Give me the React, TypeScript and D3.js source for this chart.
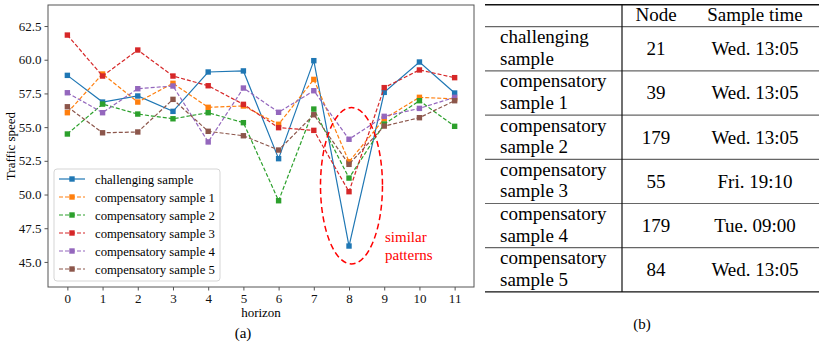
import React, { useEffect, useRef } from 'react';
import * as d3 from 'd3';

const horizons = [0, 1, 2, 3, 4, 5, 6, 7, 8, 9, 10, 11];
const seriesNames = [
  'challenging sample',
  'compensatory sample 1',
  'compensatory sample 2',
  'compensatory sample 3',
  'compensatory sample 4',
  'compensatory sample 5',
];
const challenging = [58.84, 56.86, 57.31, 56.17, 59.09, 59.17, 52.66, 59.93, 46.18, 57.58, 59.83, 57.53];
const comp1 = [56.07, 58.94, 56.86, 58.25, 56.47, 56.57, 55.21, 58.54, 52.43, 55.62, 57.21, 57.1];
const comp2 = [54.49, 56.71, 55.97, 55.62, 56.07, 55.33, 49.54, 56.34, 51.22, 55.23, 56.96, 55.06];
const comp3 = [61.83, 58.79, 60.72, 58.79, 58.07, 56.69, 54.96, 54.76, 50.21, 57.93, 59.24, 58.67];
const comp4 = [57.55, 56.07, 57.85, 58.05, 53.9, 57.9, 56.1, 57.7, 54.1, 55.8, 56.39, 57.21];
const comp5 = [56.51, 54.58, 54.64, 57.06, 54.69, 54.36, 53.3, 55.92, 52.24, 55.08, 55.7, 56.96];
const yTicks = [45.0, 47.5, 50.0, 52.5, 55.0, 57.5, 60.0, 62.5];

const tableHeader = ['', 'Node', 'Sample time'];
const rowLabels = [
  ['challenging', 'sample'],
  ['compensatory', 'sample 1'],
  ['compensatory', 'sample 2'],
  ['compensatory', 'sample 3'],
  ['compensatory', 'sample 4'],
  ['compensatory', 'sample 5'],
];
const nodes = ['21', '39', '179', '55', '179', '84'];
const sampleTimes = ['Wed. 13:05', 'Wed. 13:05', 'Wed. 13:05', 'Fri. 19:10', 'Tue. 09:00', 'Wed. 13:05'];

const colors = ['#1f77b4', '#ff7f0e', '#2ca02c', '#d62728', '#9467bd', '#8c564b'];
const FONT = "'Liberation Serif', 'Times New Roman', 'DejaVu Serif', serif";

export default function App() {
  const ref = useRef(null);

  useEffect(() => {
    document.body.style.margin = '0';
    const svg = d3.select(ref.current);
    svg.selectAll('*').remove();
    svg.attr('width', 830).attr('height', 346).style('background', '#fff')
      .attr('font-family', FONT);

    // plot area
    const L = 48, R = 474, T = 5, B = 287;
    const x = d3.scaleLinear().domain([-0.55, 11.55]).range([L, R]);
    const y = d3.scaleLinear().domain([43.14, 64.06]).range([B, T]);
    const all = [challenging, comp1, comp2, comp3, comp4, comp5];

    const g = svg.append('g');

    const line = d3.line<number>().x((d, i) => x(horizons[i])).y((d) => y(d));

    all.forEach((vals, k) => {
      g.append('path')
        .attr('d', line(vals))
        .attr('fill', 'none')
        .attr('stroke', colors[k])
        .attr('stroke-width', 1.2)
        .attr('stroke-dasharray', k === 0 ? null : '4,2');
      g.selectAll('.m' + k)
        .data(vals)
        .join('rect')
        .attr('x', (d, i) => x(horizons[i]) - 2.7)
        .attr('y', (d) => y(d) - 2.7)
        .attr('width', 5.4)
        .attr('height', 5.4)
        .attr('fill', colors[k]);
    });

    // similar patterns ellipse
    g.append('ellipse')
      .attr('cx', x(8.07))
      .attr('cy', y(50.65))
      .attr('rx', x(8.95) - x(8.07))
      .attr('ry', y(50.65) - y(56.45))
      .attr('fill', 'none')
      .attr('stroke', '#ff0000')
      .attr('stroke-width', 1.5)
      .attr('stroke-dasharray', '6,3.5');

    g.append('text').attr('x', 385).attr('y', 242).text('similar')
      .attr('fill', '#ff0000').attr('font-family', FONT).attr('font-size', 15);
    g.append('text').attr('x', 385).attr('y', 260).text('patterns')
      .attr('fill', '#ff0000').attr('font-family', FONT).attr('font-size', 15);

    // frame
    svg.append('rect').attr('x', L).attr('y', T).attr('width', R - L).attr('height', B - T)
      .attr('fill', 'none').attr('stroke', '#555').attr('stroke-width', 1);

    // axes
    const xAxis = svg.append('g').attr('transform', `translate(0,${B})`)
      .call(d3.axisBottom(x).tickValues(horizons).tickSize(3.5).tickSizeOuter(0).tickPadding(3));
    const yAxis = svg.append('g').attr('transform', `translate(${L},0)`)
      .call(d3.axisLeft(y).tickValues(yTicks).tickFormat(d3.format('.1f')).tickSize(3.5).tickSizeOuter(0).tickPadding(3));
    [xAxis, yAxis].forEach((a) => {
      a.attr('font-family', FONT).attr('font-size', 13);
      a.select('.domain').remove();
      a.selectAll('line').attr('stroke', '#555');
      a.selectAll('text').attr('fill', '#111');
    });

    svg.append('text').attr('x', (L + R) / 2).attr('y', 317).attr('text-anchor', 'middle')
      .text('horizon').attr('font-size', 13);
    svg.append('text').attr('transform', `translate(15,${(T + B) / 2}) rotate(-90)`).attr('text-anchor', 'middle')
      .text('Traffic speed').attr('font-size', 13);
    svg.append('text').attr('x', 243).attr('y', 338).attr('text-anchor', 'middle')
      .text('(a)').attr('font-size', 15);

    // legend
    const lg = svg.append('g');
    lg.append('rect').attr('x', 54).attr('y', 169).attr('width', 166).attr('height', 112).attr('rx', 3)
      .attr('fill', '#fff').attr('fill-opacity', 0.8).attr('stroke', '#d5d5d5');
    seriesNames.forEach((name, k) => {
      const yy = 179 + k * 18;
      lg.append('line').attr('x1', 59).attr('x2', 85).attr('y1', yy).attr('y2', yy)
        .attr('stroke', colors[k]).attr('stroke-width', 1.2).attr('stroke-dasharray', k === 0 ? null : '4,2');
      lg.append('rect').attr('x', 72 - 2.7).attr('y', yy - 2.7).attr('width', 5.4).attr('height', 5.4).attr('fill', colors[k]);
      lg.append('text').attr('x', 95).attr('y', yy + 4.5).text(name).attr('font-size', 12.7);
    });

    // table
    const tL = 485, tR = 819, tV = 622;
    const headTop = 4.7, headBot = 26.7, rowH = 44.2;
    const tb = svg.append('g').attr('font-size', 19);
    const colX = [500, 656, 755];
    tableHeader.forEach((h, i) => {
      if (h) tb.append('text').attr('x', colX[i]).attr('y', 21).attr('text-anchor', 'middle').text(h);
    });
    tb.append('line').attr('x1', tL).attr('x2', tR).attr('y1', headTop).attr('y2', headTop).attr('stroke', '#111').attr('stroke-width', 1.4);
    tb.append('line').attr('x1', tL).attr('x2', tR).attr('y1', headBot).attr('y2', headBot).attr('stroke', '#666').attr('stroke-width', 1.2);
    rowLabels.forEach((lab, r) => {
      const top = headBot + r * rowH;
      tb.append('text').attr('x', colX[0]).attr('y', top + 16.5).text(lab[0]);
      tb.append('text').attr('x', colX[0]).attr('y', top + 38).text(lab[1]);
      tb.append('text').attr('x', colX[1]).attr('y', top + 28.5).attr('text-anchor', 'middle').text(nodes[r]);
      tb.append('text').attr('x', colX[2]).attr('y', top + 28.5).attr('text-anchor', 'middle').text(sampleTimes[r]);
      const last = r === rowLabels.length - 1;
      tb.append('line').attr('x1', tL).attr('x2', tR).attr('y1', top + rowH).attr('y2', top + rowH)
        .attr('stroke', last ? '#111' : '#666').attr('stroke-width', last ? 1.4 : 1.2);
    });
    tb.append('line').attr('x1', tV).attr('x2', tV).attr('y1', headTop).attr('y2', headBot + 6 * rowH)
      .attr('stroke', '#111').attr('stroke-width', 1.2);
    svg.append('text').attr('x', 642).attr('y', 329).attr('text-anchor', 'middle')
      .text('(b)').attr('font-size', 15);
  }, []);

  return <svg ref={ref} style={{ display: 'block' }}></svg>;
}
